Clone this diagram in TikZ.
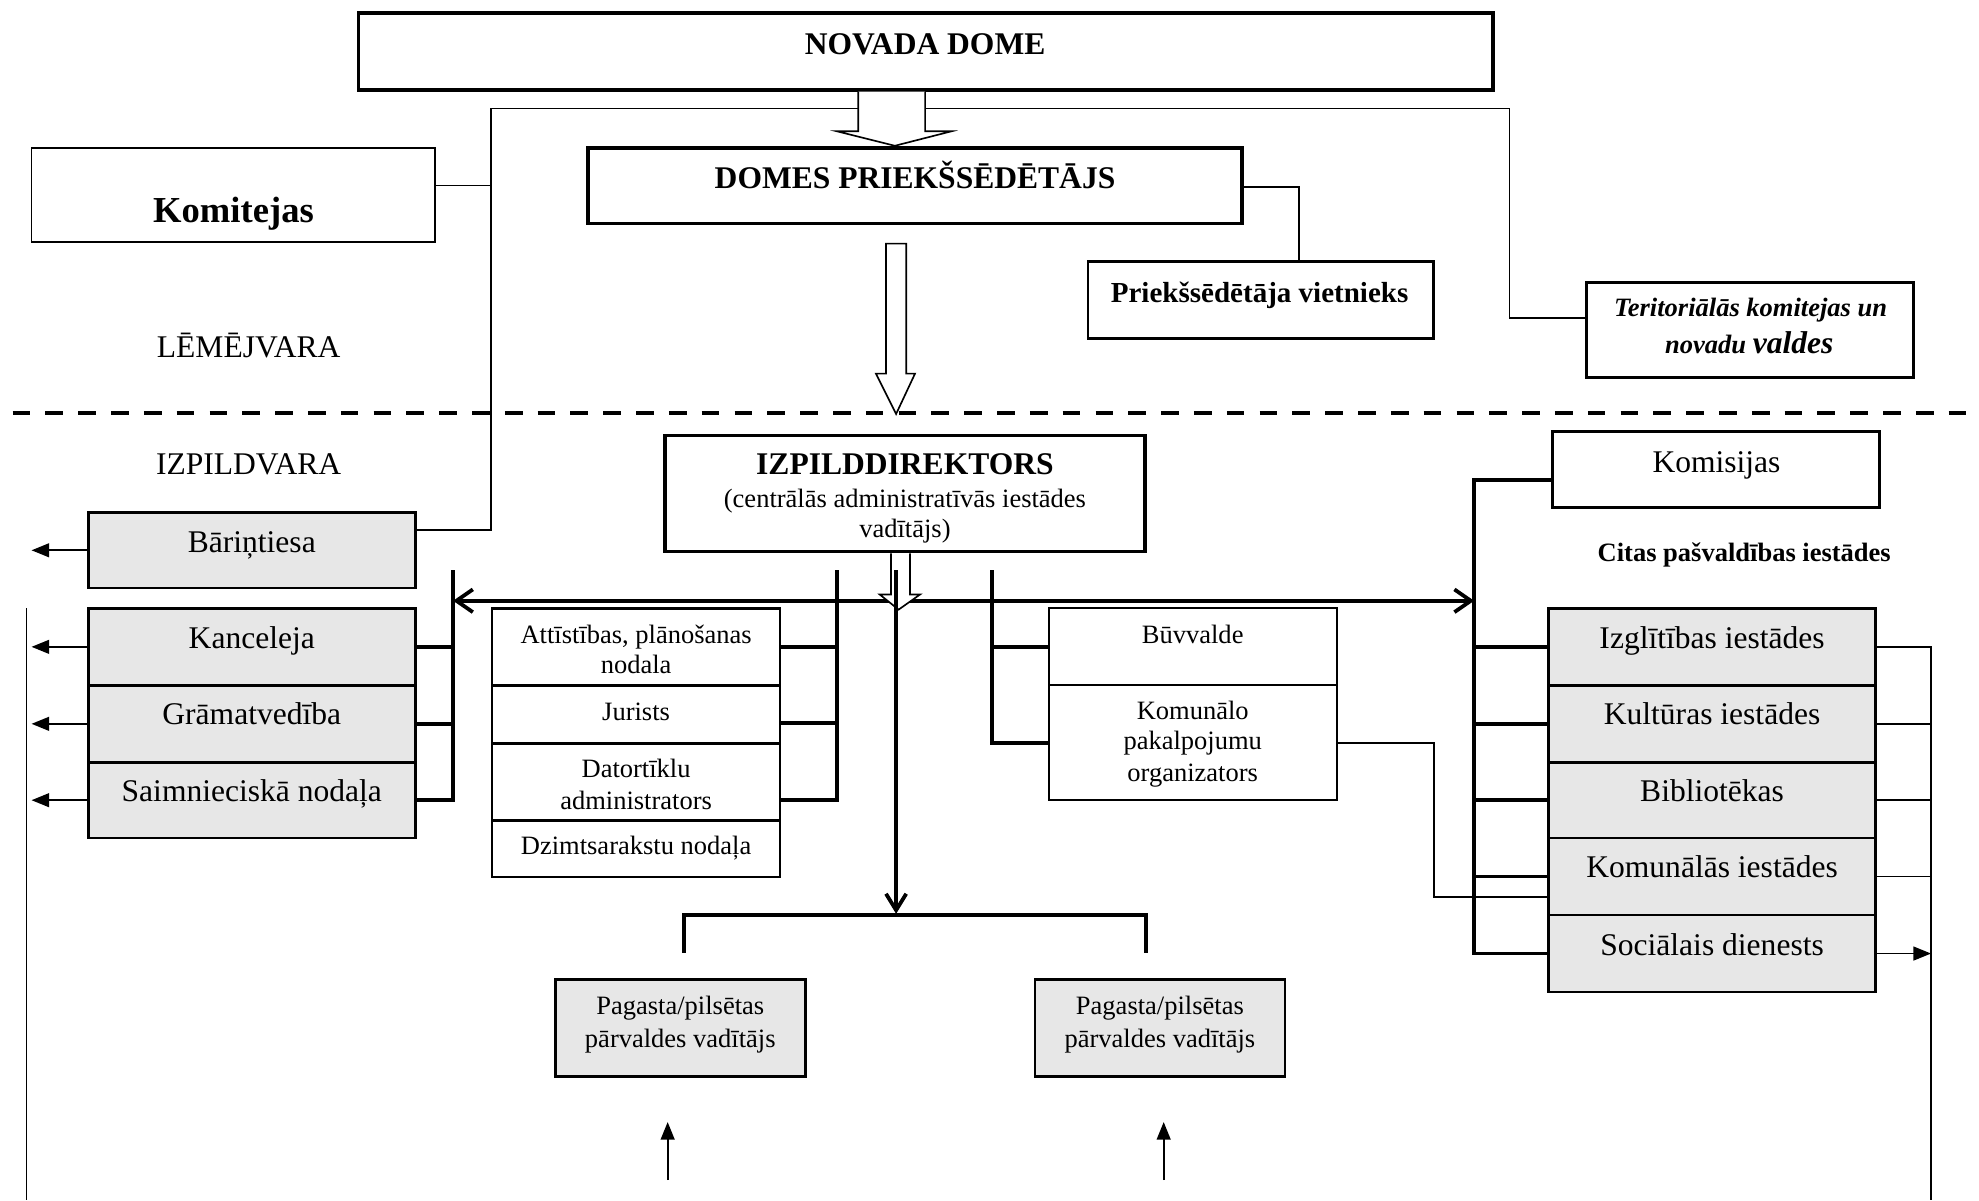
\documentclass[tikz,border=0pt]{standalone}
\usepackage{fontspec}
\setmainfont{Liberation Serif}
\usetikzlibrary{arrows.meta}
\definecolor{boxgray}{HTML}{E7E7E7}
\newcommand\fsz[1]{\fontsize{#1}{#1}\selectfont}
\begin{document}
\begin{tikzpicture}[x=1pt,y=-1pt,
 thickbox/.style={draw, line width=3pt, fill=white, inner sep=0pt},
 midbox/.style={draw, line width=2pt, fill=white, inner sep=0pt},
 thinbox/.style={draw, line width=1.5pt, fill=white, inner sep=0pt},
 graybox/.style={draw, line width=2pt, fill=boxgray, inner sep=0pt},
 lbl/.style={anchor=base, inner sep=0pt},
 thickl/.style={line width=3pt},
 thinl/.style={line width=1.4pt},
 hollow/.style={draw, line width=1.3pt, fill=white, line join=miter},
 barbs/.style={arrows={Straight Barb[length=13pt,width=18pt]-Straight Barb[length=13pt,width=18pt]}},
 barbend/.style={arrows={-Straight Barb[length=13pt,width=16pt]}},
 tri/.style={arrows={-Triangle[length=14pt,width=11pt]}}]
\useasboundingbox (0,0) rectangle (1568,951);

% ---------- upper part ----------
\node[thickbox, minimum width=899pt, minimum height=61pt] (novada) at (733.5,40.5) {};
\node[lbl, font=\bfseries\fsz{25}] (t-novada) at (733,43) {NOVADA DOME};

\node[thickbox, minimum width=518pt, minimum height=60pt] (domes) at (725,147) {};
\node[lbl, font=\bfseries\fsz{25}] (t-domes) at (725,149) {DOMES PRIEKŠSĒDĒTĀJS};

\node[thinbox, minimum width=320pt, minimum height=75pt] (komit) at (185,154.5) {};
\node[lbl, font=\bfseries\fsz{29}] (t-komit) at (185,176) {Komitejas};

\node[midbox, line width=2.2pt, minimum width=274pt, minimum height=61pt] (vietn) at (999,237.5) {};
\node[lbl, font=\bfseries\fsz{23}] (t-vietn) at (998,240) {Priekšsēdētāja vietnieks};

\node[midbox, minimum width=259pt, minimum height=75pt] (terit) at (1386.5,261.5) {};
\node[lbl, font=\bfseries\itshape\fsz{21}] (t-terit1) at (1387,251) {Teritoriālās komitejas un};
\node[lbl, font=\bfseries\itshape\fsz{21}] (t-terit2) at (1386,280) {novadu {\fsz{25}valdes}};

\node[lbl, font=\fsz{25}] (t-lem) at (197,283) {LĒMĒJVARA};
\node[lbl, font=\fsz{25}] (t-izp) at (197,376) {IZPILDVARA};

\coordinate (lt) at (389,86);
\coordinate (rt) at (1196,86);
\draw[thinl] (komit.east |- 0,147) -- (lt |- 0,147);
\draw[thinl] (domes.east |- 0,148) -| (vietn.north -| 1029,0);

% hollow arrow 2
\draw[hollow] (702,193) -- (702,296) -- (694,296) -- (710,328) -- (725,296) -- (718,296) -- (718,193) -- cycle;

% dashed separator
\draw[line width=3.2pt, dash pattern=on 14pt off 12pt] (10,327) -- (1568,327);

% ---------- lower part ----------
\node[thickbox, minimum width=380pt, minimum height=92pt] (izpild) at (717,391) {};
\node[lbl, font=\bfseries\fsz{25}] (t-izpild1) at (717,376) {IZPILDDIREKTORS};
\node[lbl, font=\fsz{21}] (t-izpild2) at (717,402) {(centrālās administratīvās iestādes};
\node[lbl, font=\fsz{21}] (t-izpild3) at (717,426) {vadītājs)};

\node[midbox, minimum width=259pt, minimum height=60pt] (komis) at (1359.5,372) {};
\node[lbl, font=\fsz{25}] (t-komis) at (1360,374) {Komisijas};
\node[lbl, font=\bfseries\fsz{21}] (t-citas) at (1382,445) {Citas pašvaldības iestādes};

% left column
\node[graybox, minimum width=259pt, minimum height=60pt] (bar) at (199.5,436) {};
\node[lbl, font=\fsz{25}] (t-bar) at (199.5,438) {Bāriņtiesa};
\node[graybox, minimum width=259pt, minimum height=61pt] (kanc) at (199.5,512.5) {};
\node[lbl, font=\fsz{25}] (t-kanc) at (199.5,514) {Kanceleja};
\node[graybox, minimum width=259pt, minimum height=61pt] (gram) at (199.5,573.5) {};
\node[lbl, font=\fsz{25}] (t-gram) at (199.5,574) {Grāmatvedība};
\node[graybox, minimum width=259pt, minimum height=60pt] (saim) at (199.5,634) {};
\node[lbl, font=\fsz{25}] (t-saim) at (199.5,635) {Saimnieciskā nodaļa};

% middle-left column
\node[midbox, minimum width=228pt, minimum height=61pt] (att) at (504,512.5) {};
\node[lbl, font=\fsz{21}] (t-att1) at (504,510) {Attīstības, plānošanas};
\node[lbl, font=\fsz{21}] (t-att2) at (504,534) {nodala};
\node[midbox, minimum width=228pt, minimum height=46pt] (jur) at (504,566) {};
\node[lbl, font=\fsz{21}] (t-jur) at (504,571) {Jurists};
\node[midbox, minimum width=228pt, minimum height=61pt] (dat) at (504,619.5) {};
\node[lbl, font=\fsz{21}] (t-dat1) at (504,616) {Datortīklu};
\node[lbl, font=\fsz{21}] (t-dat2) at (504,641) {administrators};
\node[midbox, minimum width=228pt, minimum height=45pt] (dzim) at (504,672.5) {};
\node[lbl, font=\fsz{21}] (t-dzim) at (504,677) {Dzimtsarakstu nodaļa};

% middle-right column
\node[midbox, line width=1.5pt, minimum width=228pt, minimum height=61pt] (buv) at (945,512.5) {};
\node[lbl, font=\fsz{21}] (t-buv) at (945,510) {Būvvalde};
\node[midbox, line width=1.5pt, minimum width=228pt, minimum height=91pt] (kom) at (945,588.5) {};
\node[lbl, font=\fsz{21}] (t-kom1) at (945,570) {Komunālo};
\node[lbl, font=\fsz{21}] (t-kom2) at (945,594) {pakalpojumu};
\node[lbl, font=\fsz{21}] (t-kom3) at (945,619) {organizators};

% right column
\node[graybox, minimum width=259pt, minimum height=61pt] (izgl) at (1356.5,512.5) {};
\node[lbl, font=\fsz{25}] (t-izgl) at (1356.5,514) {Izglītības iestādes};
\node[graybox, minimum width=259pt, minimum height=61pt] (kult) at (1356.5,573.5) {};
\node[lbl, font=\fsz{25}] (t-kult) at (1356.5,574) {Kultūras iestādes};
\node[graybox, minimum width=259pt, minimum height=60pt] (bib) at (1356.5,634) {};
\node[lbl, font=\fsz{25}] (t-bib) at (1356.5,635) {Bibliotēkas};
\node[graybox, minimum width=259pt, minimum height=61pt] (komu) at (1356.5,694.5) {};
\node[lbl, font=\fsz{25}] (t-komu) at (1356.5,695) {Komunālās iestādes};
\node[graybox, minimum width=259pt, minimum height=61pt] (soc) at (1356.5,755.5) {};
\node[lbl, font=\fsz{25}] (t-soc) at (1356.5,757) {Sociālais dienests};

% parish boxes
\node[graybox, minimum width=198pt, minimum height=77pt] (pag1) at (539,814.5) {};
\node[lbl, font=\fsz{21}] (t-pag1a) at (539,804) {Pagasta/pilsētas};
\node[lbl, font=\fsz{21}] (t-pag1b) at (539,830) {pārvaldes vadītājs};
\node[graybox, minimum width=198pt, minimum height=77pt] (pag2) at (919,814.5) {};
\node[lbl, font=\fsz{21}] (t-pag2a) at (919,804) {Pagasta/pilsētas};
\node[lbl, font=\fsz{21}] (t-pag2b) at (919,830) {pārvaldes vadītājs};

% council bracket (left and right)
\draw[thinl] (bar.east |- 0,420) -| (lt) -- (rt) |- (terit.west |- 0,252);
% hollow arrow 1 on top of the bracket line
\draw[hollow] (novada.south -| 680,0) -- (680,104) -- (663,104) -- (domes.north -| 709,0)
  -- (754,104) -- (733,104) -- (novada.south -| 733,0);

% coordinates of thick verticals
\coordinate (vL) at (359,476);
\coordinate (vR) at (1168,476);
\coordinate (vM1) at (663,452);
\coordinate (vM2) at (786,452);
\coordinate (vC) at (710,452);

% thin connector Komunalo -> Komunalas
\draw[thinl] (kom.east) -| (1136,711) -- (komu.west |- 0,711);

% horizontal double arrow
\draw[thickl, barbs] (vL) -- (vR);

% left branch
\draw[thickl] (vL |- 0,452) -- (vL |- saim.east) -- (saim.east);
\draw[thickl] (kanc.east) -- (kanc.east -| vL);
\draw[thickl] (gram.east) -- (gram.east -| vL);

% middle-left branch
\draw[thickl] (vM1) -- (vM1 |- 0,634) -- (dat.east |- 0,634);
\draw[thickl] (att.east) -- (att.east -| vM1);
\draw[thickl] (jur.east |- 0,573) -- (vM1 |- 0,573);

% middle-right branch
\draw[thickl] (vM2) |- (kom.west);
\draw[thickl] (buv.west) -- (buv.west -| vM2);

% right branch
\draw[thickl] (komis.west |- 0,380) -| (soc.west -| vR) -- (soc.west);
\draw[thickl] (izgl.west) -- (izgl.west -| vR);
\draw[thickl] (kult.west) -- (kult.west -| vR);
\draw[thickl] (bib.west) -- (bib.west -| vR);
\draw[thickl] (komu.west) -- (komu.west -| vR);

% hollow arrow 3
\draw[hollow] (izpild.south -| 706,0) -- (706,471) -- (697,471) -- (712,483) -- (729,471) -- (721,471) -- (izpild.south -| 721,0);

% central vertical to parish bracket
\coordinate (bl) at (542,755);
\coordinate (br) at (908,755);
\draw[thickl, barbend] (vC) -- (vC |- 0,724);
\draw[thickl] (bl) |- (br |- 0,725) -- (br);

% right thin lines
\draw[thinl] (izgl.east) -| (1530,951);
\draw[thinl] (kult.east) -- (kult.east -| 1530,0);
\draw[thinl] (bib.east) -- (bib.east -| 1530,0);
\draw[thinl] (komu.east) -- (komu.east -| 1530,0);
\draw[thinl, tri] (soc.east) -- (soc.east -| 1530,0);

% left thin lines
\draw[thinl] (21,482) -- (21,951);
\draw[thinl, tri] (bar.west) -- (bar.west -| 25,0);
\draw[thinl, tri] (kanc.west) -- (kanc.west -| 25,0);
\draw[thinl, tri] (gram.west) -- (gram.west -| 25,0);
\draw[thinl, tri] (saim.west) -- (saim.west -| 25,0);

% up arrows below parish boxes
\coordinate (u1) at (529,935);
\coordinate (u2) at (922,935);
\draw[thinl, tri] (u1) -- (u1 |- 0,889);
\draw[thinl, tri] (u2) -- (u2 |- 0,889);
\end{tikzpicture}
\end{document}
